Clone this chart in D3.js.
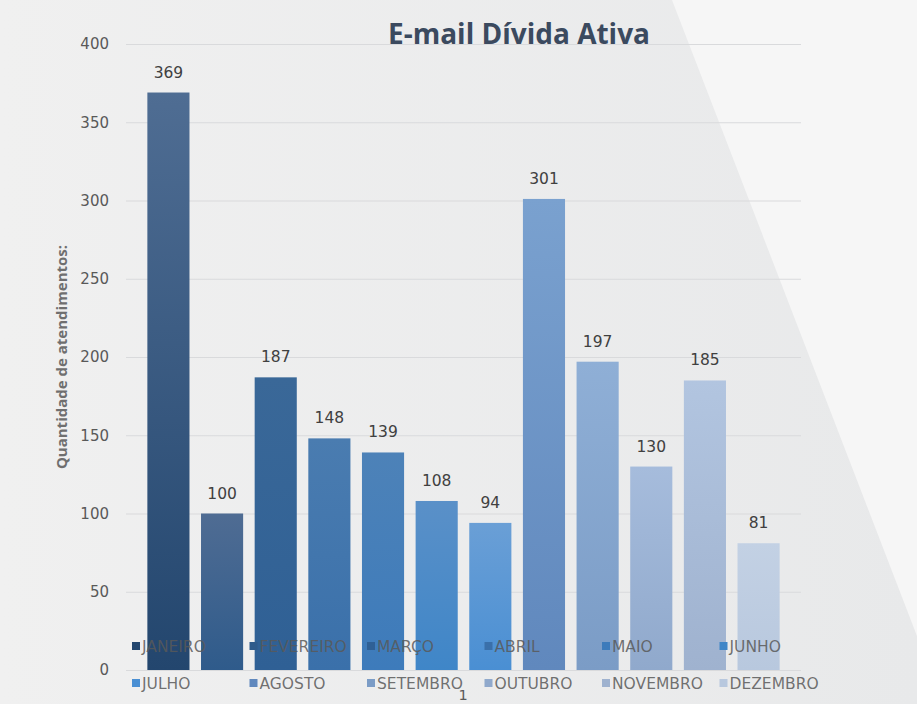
<!DOCTYPE html>
<html><head><meta charset="utf-8">
<script src="https://cdn.jsdelivr.net/npm/d3@7"></script>
<style>html,body{margin:0;padding:0;background:#efefef;}svg{display:block;}</style>
</head><body>
<svg id="c" width="917" height="704"></svg>
<script>
const months = ["JANEIRO","FEVEREIRO","MARÇO","ABRIL","MAIO","JUNHO","JULHO","AGOSTO","SETEMBRO","OUTUBRO","NOVEMBRO","DEZEMBRO"];
const values = [369,100,187,148,139,108,94,301,197,130,185,81];
const yTicks = [0,50,100,150,200,250,300,350,400];
const topColors = ["#4f6d93","#4f6c93","#3a6898","#4a7cb0","#4d82b8","#5a90c8","#6a9fd6","#7aa1cf","#8fafd6","#a6bcdc","#b2c5e0","#c3d1e4"];
const bottomColors = ["#23466e","#2f5b8b","#2f6095","#3a70aa","#3d7bbb","#3f86c8","#4a8fd3","#6088bd","#7b9cc6","#90a9cc","#9fb2cf","#b8c8de"];
const categoryLabel = "1";

const FONT = "'Open Sans', Lato, sans-serif";
const WFONT = "'DejaVu Sans', Verdana, sans-serif";
const svg = d3.select("#c");
const defs = svg.append("defs");
const bg = defs.append("linearGradient").attr("id","bg").attr("x1",0).attr("x2",1).attr("y1",0).attr("y2",0);
bg.append("stop").attr("offset","0%").attr("stop-color","#f0f0f0");
bg.append("stop").attr("offset","100%").attr("stop-color","#e8e9ea");
svg.append("rect").attr("width",917).attr("height",704).attr("fill","url(#bg)");
svg.append("path").attr("d","M672,0 L917,0 L917,636 Z").attr("fill","#f6f6f6");

const x = d3.scaleBand().domain(months).range([142,785]).paddingInner(0.215).paddingOuter(0.1);
const y = d3.scaleLinear().domain([0,400]).range([670,44]);

svg.append("g").selectAll("line").data(yTicks).join("line")
  .attr("x1",126).attr("x2",801).attr("y1",d=>y(d)+0.5).attr("y2",d=>y(d)+0.5)
  .attr("stroke","#d9dadc").attr("stroke-width",1.2);

const yAxis = d3.axisLeft(y).tickValues(yTicks).tickSize(0).tickPadding(0);
const ga = svg.append("g").attr("transform","translate(109,0)").call(yAxis);
ga.select(".domain").remove();
ga.selectAll("text").attr("font-family",WFONT).attr("font-size",15).attr("fill","#595959");

months.forEach((m,i)=>{
  const g = defs.append("linearGradient").attr("id","g"+i).attr("x1",0).attr("x2",0).attr("y1",0).attr("y2",1);
  g.append("stop").attr("offset","0%").attr("stop-color",topColors[i]);
  g.append("stop").attr("offset","100%").attr("stop-color",bottomColors[i]);
});

svg.append("g").selectAll("rect").data(values).join("rect")
  .attr("x",(d,i)=>x(months[i])).attr("width",x.bandwidth())
  .attr("y",d=>y(d)).attr("height",d=>y(0)-y(d))
  .attr("fill",(d,i)=>"url(#g"+i+")");

svg.append("g").selectAll("text").data(values).join("text")
  .attr("x",(d,i)=>x(months[i])+x.bandwidth()/2).attr("y",d=>y(d)-15)
  .attr("text-anchor","middle").attr("font-family",WFONT)
  .attr("font-size",15.5).attr("fill","#404040").text(d=>d);

svg.append("text").attr("x",519).attr("y",44).attr("text-anchor","middle")
  .attr("font-family",FONT).attr("font-weight","bold")
  .attr("font-size",28).attr("fill","#3b4a5f").text("E-mail Dívida Ativa");

svg.append("text").attr("transform","translate(67,357) rotate(-90)").attr("text-anchor","middle")
  .attr("font-family",FONT).attr("font-weight","bold")
  .attr("font-size",15).attr("fill","#6f6f6f").text("Quantidade de atendimentos:");

svg.append("text").attr("x",463).attr("y",700).attr("text-anchor","middle")
  .attr("font-family",WFONT).attr("font-size",14.5).attr("fill","#595959").text(categoryLabel);

const lg = svg.append("g").selectAll("g").data(months).join("g")
  .attr("transform",(d,i)=>`translate(${132 + (i%6)*117.5},${i<6?646:683})`);
lg.append("rect").attr("x",0).attr("y",-4).attr("width",8).attr("height",8).attr("fill",(d,i)=>bottomColors[i]);
lg.append("text").attr("x",10).attr("y",5.5).attr("font-family",WFONT)
  .attr("font-size",15.5).attr("fill","#595959").attr("fill-opacity",0.85).text(d=>d);
</script>
</body></html>
